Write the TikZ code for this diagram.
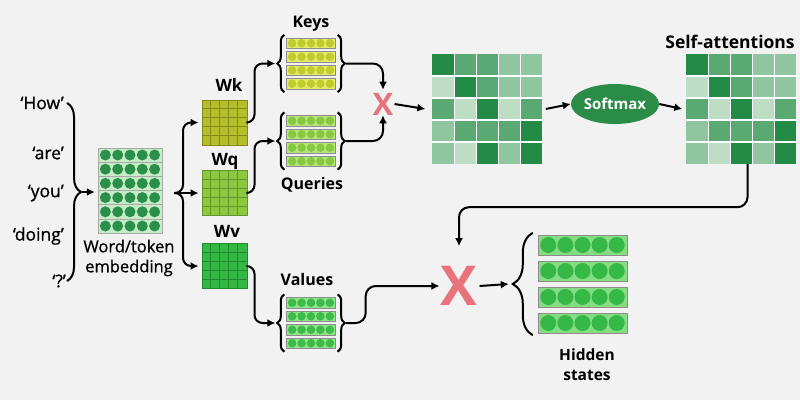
\documentclass[tikz,border=0pt]{standalone}
\usepackage{fontspec}
\setmainfont{Open Sans}
\newfontfamily\medfont[FakeBold=0.8]{Open Sans}
\usetikzlibrary{arrows.meta,decorations.pathreplacing,shapes.geometric,positioning}

\definecolor{bg}{HTML}{F2F2F2}
\definecolor{cdk}{HTML}{238B45}
\definecolor{cmd}{HTML}{5AA872}
\definecolor{clm}{HTML}{8FC59F}
\definecolor{clt}{HTML}{BDDDC5}
\definecolor{xred}{HTML}{E8737B}
\definecolor{softgreen}{HTML}{2A8C47}
\definecolor{wkfill}{HTML}{B5BE2A}
\definecolor{wkline}{HTML}{838C12}
\definecolor{wqfill}{HTML}{8DC63F}
\definecolor{wqline}{HTML}{62962A}
\definecolor{wvfill}{HTML}{34B844}
\definecolor{wvline}{HTML}{1F8A30}
\definecolor{rowline}{HTML}{8C8C8C}

\tikzset{
    keysrow/.style={fill={rgb,255:red,228;green,234;blue,106}, draw=rowline, line width=0.8pt},
    keysdot/.style={fill={rgb,255:red,192;green,203;blue,44}},
    qrow/.style={fill={rgb,255:red,183;green,228;blue,124}, draw=rowline, line width=0.8pt},
    qdot/.style={fill={rgb,255:red,134;green,201;blue,62}},
    vrow/.style={fill={rgb,255:red,142;green,227;blue,139}, draw=rowline, line width=0.8pt},
    vdot/.style={fill={rgb,255:red,59;green,187;blue,71}},
    embrow/.style={fill={rgb,255:red,200;green,236;blue,200}, draw={rgb,255:red,165;green,170;blue,165}, line width=0.8pt},
    embdot/.style={fill={rgb,255:red,42;green,143;blue,72}},
    hidrow/.style={fill={rgb,255:red,132;green,221;blue,130}, draw=rowline, line width=0.8pt},
    hiddot/.style={fill={rgb,255:red,53;green,184;blue,69}},
}

% rows of dots: name, x, y, rows, width, height, pitch, dot size, kind
\newcommand{\dotrows}[9]{%
    \node[minimum width=#5pt, minimum height={(#4-1)*#7pt+#6pt}, inner sep=0pt] (#1) at (#2,#3) {};
    \foreach \i in {1,...,#4} {
        \pgfmathsetmacro{\ry}{#3+(\i-(#4+1)/2)*#7}
        \draw[#9row] ({#2-#5/2},{\ry-#6/2}) rectangle ++(#5,#6);
        \foreach \k in {-2,...,2}
            \fill[#9dot] ({#2+\k*#5/5.2},\ry) circle[radius={#8*0.5pt}];
    }
}

% weight matrix: name, x, y, kind
\newcommand{\wgrid}[4]{%
    \node[fill=#4fill, draw=#4line, line width=1pt, minimum size=45pt, inner sep=0pt] (#1) at (#2,#3) {};
    \foreach \k in {1,...,4} {
        \draw[#4line, line width=0.8pt] ([xshift=\k*9pt]#1.north west) -- ([xshift=\k*9pt]#1.south west);
        \draw[#4line, line width=0.8pt] ([yshift=-\k*9pt]#1.north west) -- ([yshift=-\k*9pt]#1.north east);
    }
}

% attention matrix: name, x, y
\newcommand{\attnmat}[3]{%
    \node[minimum size=110pt, inner sep=0pt] (#1) at (#2,#3) {};
    \foreach \row [count=\i from 0] in {{cdk,cmd,cmd,clm,clm},{clt,cdk,cmd,clm,clm},{cmd,clt,cdk,clt,cmd},{clm,cmd,cmd,cmd,cdk},{clm,clt,cdk,clm,cdk}} {
        \foreach \c [count=\j from 0] in \row
            \fill[\c] ([xshift=\j*22pt, yshift=-\i*22pt]#1.north west) rectangle ++(22,22);
    }
    \foreach \k in {1,...,4} {
        \draw[white, line width=1.5pt] ([xshift=\k*22pt]#1.north west) -- ([xshift=\k*22pt]#1.south west);
        \draw[white, line width=1.5pt] ([yshift=-\k*22pt]#1.north west) -- ([yshift=-\k*22pt]#1.north east);
    }
}

\begin{document}
\begin{tikzpicture}[
    x=1pt, y=-1pt,
    arr/.style={-{Latex[length=8pt,width=8pt]}, line width=2pt},
    curly/.style={decorate, decoration={brace, amplitude=#1}, line width=2pt},
    word/.style={font=\medfont\fontsize{17.5}{21}\selectfont, anchor=east, inner sep=0pt},
    lbl/.style={font=\fontsize{16}{20}\selectfont\bfseries, inner sep=0pt, align=center},
    bigx/.style={text=xred, inner sep=0pt, font=\bfseries},
]
    \fill[bg] (0,0) rectangle (800,400);
    \useasboundingbox (0,0) rectangle (800,400);

    % Input words
    \node[word] (how) at (64,103) {‘How’};
    \node[word] (are) at (64,153) {‘are’};
    \node[word] (you) at (64,193) {‘you’};
    \node[word] (doing) at (64,236) {‘doing’};
    \node[word] (qm) at (66,281) {‘?’};
    \draw[curly=14] ([xshift=3pt]how.east) -- ([xshift=3pt]how.east |- qm.east);

    % Embedding
    \dotrows{emb}{130}{190.5}{6}{64}{14.2}{14.2}{11}{emb}
    \node[word, font=\medfont\fontsize{16.5}{20}\selectfont, anchor=center, align=center] (emblbl) at (129,258) {Word/token\\embedding};
    \coordinate (wtip) at (82,192);
    \draw[arr, shorten >=3pt] (wtip) -- (wtip -| emb.west);

    % Weight matrices
    \wgrid{wk}{224.5}{122.5}{wk}
    \wgrid{wq}{224.5}{193}{wq}
    \wgrid{wv}{224.5}{266}{wv}
    \node[lbl, font=\fontsize{17}{20}\selectfont\bfseries] (wklbl) at (229,85) {Wk};
    \node[lbl, font=\fontsize{17}{20}\selectfont\bfseries] (wqlbl) at (225,161) {Wq};
    \node[lbl, font=\fontsize{17}{20}\selectfont\bfseries] (wvlbl) at (227,231) {Wv};

    % Fork
    \coordinate (fork) at (174,193);
    \draw[arr, shorten >=3pt] (fork) -- (wq.west);
    \draw[arr, shorten >=3pt, rounded corners=8pt] (fork) -- ++(9,0) |- (wk.west);
    \draw[arr, shorten >=3pt, rounded corners=8pt] (fork) -- ++(9,0) |- (wv.west);

    % Keys, queries, values
    \dotrows{keys}{311}{63.5}{4}{49}{10.5}{13.5}{8.5}{keys}
    \dotrows{queries}{311}{141}{4}{49}{10.5}{13.5}{8.5}{q}
    \dotrows{values}{311}{323}{4}{49}{10.5}{13.5}{8.5}{v}
    \foreach \s in {keys,queries,values} {
        \draw[curly=7] ([xshift=-2pt,yshift=-3pt]\s.south west) -- ([xshift=-2pt,yshift=3pt]\s.north west);
        \draw[curly=7] ([xshift=2pt,yshift=3pt]\s.north east) -- ([xshift=2pt,yshift=-3pt]\s.south east);
    }
    \node[lbl] (keyslbl) at (311,24) {Keys};
    \node[lbl] (querieslbl) at (312,185) {Queries};
    \node[lbl] (valueslbl) at (307,279) {Values};

    \draw[arr, rounded corners=8pt] (wk.east) -- ++(7,0) |- ([xshift=-11pt]keys.west);
    \draw[arr, rounded corners=8pt] (wq.east) -- ++(7,0) |- ([xshift=-11pt]queries.west);
    \draw[arr, rounded corners=8pt] (wv.east) -- ++(7,0) |- ([xshift=-11pt]values.west);

    % Scores
    \node[bigx, font=\fontsize{31}{31}\selectfont\bfseries] (x1) at (383,104) {X};
    \draw[arr, rounded corners=10pt] ([xshift=10pt]keys.east) -| ([yshift=3pt]x1.north);
    \draw[arr, rounded corners=10pt] ([xshift=10pt]queries.east) -| (x1.south);
    \attnmat{scores}{487.5}{109}
    \draw[arr] ([xshift=1pt]x1.east) -- ([xshift=-7pt]scores.west);

    % Softmax
    \node[ellipse, fill=softgreen, minimum width=72pt, minimum height=40pt, inner sep=0pt,
        text=white, font=\fontsize{15}{18}\selectfont\bfseries] (softmax) at (615,104) {Softmax};
    \draw[arr] ([xshift=3pt]scores.east) -- (softmax.west);
    \attnmat{selfatt}{741.5}{109}
    \draw[arr] (softmax.east) -- ([xshift=-4pt]selfatt.west);
    \node[lbl, font=\fontsize{17.5}{20}\selectfont\bfseries] (selflbl) at (730,42) {Self-attentions};

    % Output
    \node[bigx, font=\fontsize{55}{55}\selectfont\bfseries] (x2) at (459,286) {X};
    \draw[arr, rounded corners=10pt] ([xshift=6pt]selfatt.south) -- ++(0,43) -| ([yshift=20pt]x2.north);
    \draw[arr, rounded corners=10pt] ([xshift=10pt]values.east) -- ++(20,0) |- ([xshift=-1pt]x2.west);
    \dotrows{hidden}{582.5}{284}{4}{89}{20}{26}{16}{hid}
    \draw[curly=20] ([xshift=-5pt,yshift=-2pt]hidden.south west) -- ([xshift=-5pt,yshift=2pt]hidden.north west);
    \draw[arr] ([xshift=2pt]x2.east) -- ([xshift=-29pt]hidden.west);
    \node[lbl, font=\fontsize{15.5}{20}\selectfont\bfseries] (hidlbl) at (587,365) {Hidden\\states};
\end{tikzpicture}
\end{document}
